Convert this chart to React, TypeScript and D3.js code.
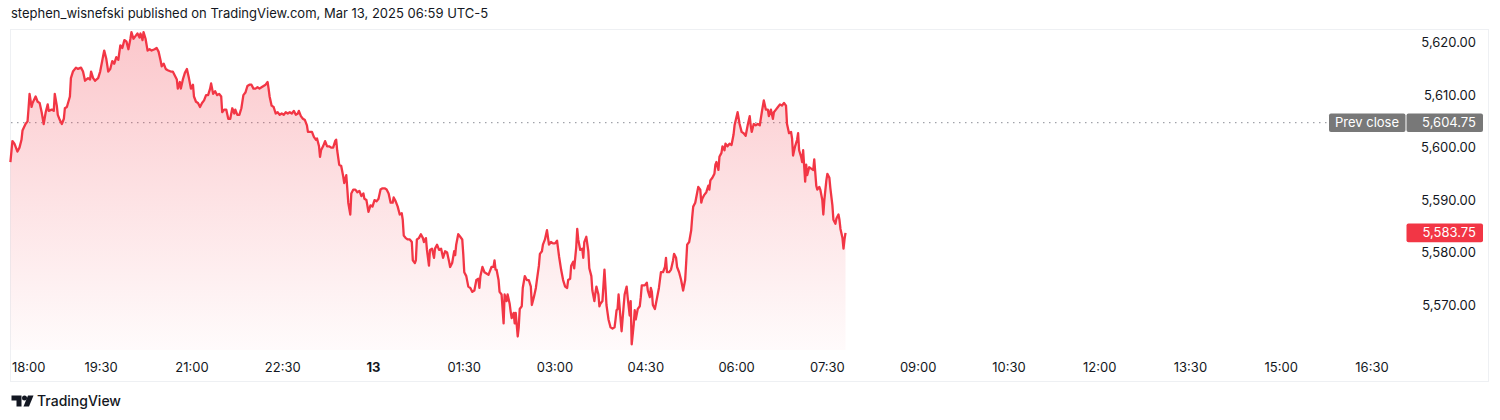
import * as d3 from 'd3';

const PRICE_TICKS = [5570, 5580, 5590, 5600, 5610, 5620];
const TIME_TICKS = ['18:00', '19:30', '21:00', '22:30', '13', '01:30', '03:00', '04:30', '06:00', '07:30', '09:00', '10:30', '12:00', '13:30', '15:00', '16:30'];
const PREV_CLOSE = 5604.75;
const LAST_PRICE = 5583.75;
const HEADER = 'stephen_wisnefski published on TradingView.com, Mar 13, 2025 06:59 UTC-5';

// [minutes after 18:00 on Mar 12, price]
const SERIES: [number, number][] = [
  [0, 5597.25], [2, 5601.25], [4, 5600.75], [7, 5599.25], [9, 5600], [11, 5601.5], [12, 5603.25], [15, 5604.5], [17, 5605], [18, 5607.5],
  [19, 5610.25], [21, 5607.75], [22, 5608.5], [25, 5609.75], [27, 5608.75], [29, 5608.5], [31, 5606.75], [33, 5604.5], [35, 5606.75], [37, 5608.25],
  [38, 5607], [41, 5607.25], [43, 5607], [44, 5610.25], [46, 5608], [47, 5606.25], [49, 5605.25], [51, 5604.5], [53, 5605.5], [54, 5607.5],
  [56, 5607.75], [59, 5609.75], [60, 5613.25], [62, 5614.5], [65, 5615.25], [67, 5615], [70, 5615.25], [72, 5614.5], [74, 5612.75], [77, 5613.25],
  [79, 5613], [80, 5614.5], [82, 5613.25], [84, 5612.75], [87, 5613.25], [89, 5614.5], [91, 5616.5], [93, 5618.5], [95, 5617], [97, 5614.5],
  [99, 5615], [101, 5616.5], [103, 5616], [105, 5617.25], [107, 5616.75], [109, 5619.5], [111, 5619], [113, 5620.5], [115, 5620.25], [117, 5618.75],
  [119, 5620.75], [120, 5622], [122, 5620.75], [124, 5621.25], [126, 5621.75], [128, 5621], [129, 5621.75], [131, 5620.5], [132, 5622], [134, 5620.75],
  [136, 5618.5], [138, 5618.75], [140, 5618.5], [143, 5618.75], [145, 5619], [147, 5618.25], [149, 5616.5], [150, 5615.5], [152, 5616], [154, 5615],
  [156, 5614.75], [159, 5614.5], [161, 5614.5], [163, 5613.75], [165, 5613], [166, 5611.25], [168, 5612.5], [169, 5611.25], [171, 5613], [173, 5614.25],
  [175, 5615], [177, 5613.25], [179, 5611.25], [181, 5612], [182, 5609.75], [184, 5608.75], [186, 5608.5], [188, 5607.75], [190, 5608.5], [192, 5609],
  [194, 5610], [196, 5610], [198, 5611.25], [199, 5612.25], [201, 5610.25], [203, 5610.75], [205, 5610], [207, 5610.25], [209, 5609.75], [210, 5606.75],
  [212, 5607.25], [214, 5607.25], [216, 5605.5], [218, 5605.5], [220, 5607.5], [222, 5606.5], [223, 5607.25], [225, 5606.25], [227, 5606.25], [229, 5607.5],
  [231, 5610], [233, 5610.5], [235, 5611.75], [237, 5612], [239, 5612], [241, 5611.25], [243, 5611.25], [245, 5611.5], [247, 5611.25], [249, 5611.5],
  [251, 5611.75], [253, 5612], [255, 5612.5], [256, 5611.25], [257, 5609.75], [259, 5608], [261, 5607.75], [263, 5606.5], [265, 5606.75], [267, 5606.25],
  [269, 5606.5], [271, 5606.25], [273, 5606.75], [275, 5606.5], [277, 5606.75], [279, 5606.5], [281, 5607], [283, 5606.25], [285, 5606.5], [286, 5607],
  [288, 5606], [290, 5605.5], [292, 5605.25], [294, 5604.25], [295, 5603], [297, 5603], [299, 5603], [301, 5602], [303, 5601.5], [304, 5601.75],
  [306, 5600.25], [307, 5598.25], [308, 5599.5], [310, 5600.25], [312, 5601.25], [314, 5600.25], [316, 5600.25], [318, 5600], [320, 5600], [322, 5601.25],
  [323, 5601.5], [324, 5599.5], [326, 5596.75], [328, 5596.5], [330, 5594.5], [331, 5593.25], [333, 5594.75], [334, 5592.25], [335, 5589.5], [337, 5587.25],
  [338, 5591.25], [340, 5592], [342, 5592], [344, 5591.5], [346, 5591.75], [348, 5590.75], [350, 5591.25], [351, 5590.25], [353, 5590], [355, 5587.75],
  [357, 5589], [359, 5588.75], [361, 5590], [363, 5589.75], [365, 5590.25], [367, 5592], [369, 5592.25], [371, 5592.25], [373, 5592], [375, 5591.25],
  [377, 5589.5], [379, 5589.5], [380, 5590.5], [382, 5589.75], [384, 5588.75], [386, 5587.25], [388, 5587.5], [389, 5586.25], [390, 5583.25], [392, 5582.75],
  [394, 5582.5], [396, 5582.5], [398, 5582], [399, 5578.5], [401, 5578], [402, 5578.5], [403, 5582.5], [405, 5582.75], [407, 5583.5], [409, 5582.75],
  [410, 5582], [412, 5582.75], [413, 5580.5], [415, 5577.5], [416, 5580.5], [418, 5580.75], [420, 5579], [421, 5580.75], [423, 5581.5], [425, 5580.5],
  [427, 5580.75], [429, 5579], [431, 5580.25], [433, 5580], [435, 5578.25], [436, 5577.25], [438, 5578], [440, 5580.25], [441, 5579.5], [442, 5581.5],
  [444, 5583.5], [446, 5583], [448, 5582.5], [449, 5579.75], [450, 5576.25], [452, 5575.5], [454, 5573.5], [456, 5573.25], [458, 5572.5], [460, 5572.75],
  [462, 5574.75], [464, 5575], [465, 5573.25], [466, 5575.5], [468, 5577.25], [470, 5576.25], [472, 5576], [474, 5575.75], [476, 5576.75], [477, 5577.25],
  [479, 5577.25], [480, 5578.5], [481, 5576.75], [482, 5576.75], [484, 5574.75], [485, 5572.5], [487, 5572], [489, 5566.5], [490, 5572], [492, 5570.75],
  [493, 5572], [495, 5570.25], [496, 5568.75], [497, 5567.5], [499, 5568.5], [500, 5566.5], [501, 5568.5], [503, 5564], [504, 5565.75], [505, 5569.25],
  [507, 5569.75], [508, 5573.25], [510, 5575.5], [512, 5574.75], [514, 5574.75], [516, 5573.5], [517, 5570], [519, 5571.5], [521, 5573.25], [522, 5574.75],
  [524, 5577.5], [525, 5579.75], [527, 5580.25], [528, 5581.5], [530, 5582.5], [532, 5584.25], [534, 5581.5], [536, 5582], [538, 5581.75], [540, 5581.75],
  [542, 5582.25], [543, 5580.75], [544, 5579.25], [546, 5576.75], [548, 5574.75], [550, 5573.5], [552, 5573.25], [553, 5574.75], [555, 5575], [556, 5577.5],
  [558, 5578.25], [559, 5577], [561, 5581], [562, 5584.5], [563, 5582.5], [565, 5580.5], [567, 5580.75], [568, 5579], [569, 5582], [571, 5583],
  [573, 5580.25], [574, 5577], [576, 5575.5], [577, 5572.75], [579, 5570.75], [580, 5572.25], [581, 5573.5], [583, 5572], [584, 5569.75], [585, 5570.25],
  [587, 5570.75], [589, 5576.75], [590, 5573.5], [591, 5570], [593, 5567.25], [595, 5565.75], [597, 5565.5], [599, 5565.75], [600, 5567.25], [601, 5569],
  [602, 5569.25], [603, 5572], [605, 5567.25], [606, 5565], [608, 5569.75], [609, 5572], [611, 5573.5], [612, 5571.5], [614, 5568], [615, 5570.75],
  [616, 5562.5], [618, 5566.25], [619, 5569], [620, 5567.25], [622, 5569.25], [624, 5569.75], [625, 5571.5], [626, 5573.75], [629, 5573.75], [631, 5574.25],
  [632, 5572.75], [634, 5571.5], [635, 5573.25], [636, 5572.5], [637, 5570], [639, 5569.25], [641, 5571.25], [643, 5573.25], [645, 5576.25], [647, 5576.25],
  [649, 5577.25], [650, 5579], [651, 5576.25], [653, 5576.25], [655, 5576.75], [657, 5578.5], [658, 5579.75], [660, 5579], [661, 5577.25], [663, 5576.25],
  [665, 5574.75], [667, 5572.75], [669, 5574.75], [670, 5578], [671, 5581.5], [673, 5582], [675, 5584.25], [676, 5586.75], [677, 5588.75], [679, 5589.5],
  [681, 5591.5], [682, 5592.5], [684, 5592], [685, 5589.5], [686, 5590.25], [688, 5591], [690, 5591.5], [692, 5592.75], [693, 5592], [694, 5593.75],
  [696, 5594.25], [698, 5595], [699, 5596.75], [700, 5597.25], [702, 5595.75], [703, 5598.25], [705, 5599], [706, 5600.25], [708, 5599.5], [709, 5600.75],
  [711, 5600.25], [713, 5600.75], [715, 5600.5], [717, 5602.5], [718, 5604.25], [721, 5606.75], [723, 5604.5], [725, 5603], [727, 5602.75], [729, 5602.25],
  [731, 5604.25], [733, 5606], [734, 5604.25], [735, 5603], [737, 5604.5], [739, 5604.25], [741, 5604.5], [743, 5604.25], [745, 5606.75], [747, 5609],
  [749, 5607.25], [751, 5607.25], [752, 5606], [754, 5607.25], [756, 5605.5], [757, 5606.75], [759, 5607.25], [761, 5607.75], [763, 5608.25], [765, 5608],
  [767, 5608.5], [769, 5608], [770, 5604.5], [772, 5602.75], [774, 5603], [775, 5601.75], [776, 5598.5], [778, 5600.25], [780, 5601.5], [781, 5602.75],
  [782, 5599.5], [784, 5598.25], [785, 5597.25], [786, 5599.5], [788, 5593.5], [789, 5596.75], [790, 5594.75], [792, 5596.25], [794, 5596], [796, 5595.75],
  [797, 5597.75], [799, 5592.75], [800, 5592], [802, 5592.5], [803, 5592], [805, 5590], [806, 5587.25], [807, 5590], [809, 5593.75], [810, 5595],
  [812, 5594.25], [813, 5592.25], [815, 5589], [816, 5586.25], [818, 5585.5], [819, 5586.5], [821, 5587.25], [822, 5586.25], [823, 5584.5], [825, 5582.75],
  [826, 5580.75], [827, 5582.5], [828, 5583.75],
];

const W = 1500;
const H = 420;
const FONT = 'Inter, "Noto Sans", Arial, sans-serif';
const RED = '#f23645';
const TEXT = '#131722';
const PLOT_BOTTOM = 350;
const START = new Date(2025, 2, 12, 18, 0);
const END = new Date(2025, 2, 13, 17, 5);
const MIN = 60000;

const toDate = (m: number) => new Date(START.getTime() + m * MIN);

export default function App() {
  const x = d3.scaleTime().domain([START, END]).range([10.4, 1407.3]);
  const y = d3.scaleLinear().domain([5570, 5620]).range([305, 42.7]);
  const fmt = d3.format(',.2f');

  const line = d3.line<[number, number]>()
    .x(d => x(toDate(d[0])))
    .y(d => y(d[1]));
  const area = d3.area<[number, number]>()
    .x(d => x(toDate(d[0])))
    .y0(PLOT_BOTTOM)
    .y1(d => y(d[1]));

  const yPrev = y(PREV_CLOSE);
  const yLast = y(LAST_PRICE);

  return (
    <div style={{ position: 'fixed', left: 0, top: 0, background: '#fff' }}>
      <svg width={W} height={H} style={{ display: 'block' }} fontFamily={FONT}>
        <rect width={W} height={H} fill="#fff" />
        <defs>
          <linearGradient id="fillGrad" gradientUnits="userSpaceOnUse" x1="0" y1="30" x2="0" y2={PLOT_BOTTOM}>
            <stop offset="0" stopColor={RED} stopOpacity={0.28} />
            <stop offset="1" stopColor={RED} stopOpacity={0.02} />
          </linearGradient>
        </defs>

        <text x={11} y={18} fontSize={13} fill={TEXT}>{HEADER}</text>

        {/* chart frame */}
        <rect x={10.5} y={29.5} width={1478} height={352} fill="none" stroke="#eef0f3" />

        {/* prev close line */}
        <line x1={11} x2={1329} y1={yPrev} y2={yPrev} stroke="#8a8d96" strokeWidth={1} strokeDasharray="1.5 4.5" />

        <path d={area(SERIES) ?? ''} fill="url(#fillGrad)" />
        <path d={line(SERIES) ?? ''} fill="none" stroke={RED} strokeWidth={2.3} strokeLinejoin="round" />

        {/* price axis */}
        {PRICE_TICKS.map(v => (
          <text key={v} x={1476} y={y(v)} dy="0.35em" textAnchor="end" fontSize={13} fill={TEXT}>{fmt(v)}</text>
        ))}

        {/* prev close badge */}
        <rect x={1329} y={yPrev - 9.3} width={76.5} height={18.6} rx={2} fill="#787878" />
        <rect x={1406.5} y={yPrev - 9.3} width={76.5} height={18.6} rx={2} fill="#787878" />
        <text x={1367} y={yPrev} dy="0.35em" textAnchor="middle" fontSize={13} fill="#fff">Prev close</text>
        <text x={1476} y={yPrev} dy="0.35em" textAnchor="end" fontSize={13} fill="#fff">{fmt(PREV_CLOSE)}</text>

        {/* last price badge */}
        <rect x={1406.5} y={yLast - 9.3} width={76.5} height={18.6} rx={2} fill={RED} />
        <text x={1476} y={yLast} dy="0.35em" textAnchor="end" fontSize={13} fill="#fff">{fmt(LAST_PRICE)}</text>

        {/* time axis */}
        {TIME_TICKS.map((label, i) => {
          const tx = x(toDate(i * 90));
          const first = i === 0;
          return (
            <text
              key={label + i}
              x={first ? 12 : tx}
              y={367}
              dy="0.35em"
              textAnchor={first ? 'start' : 'middle'}
              fontSize={13}
              fontWeight={label === '13' ? 700 : 400}
              fill={TEXT}
            >
              {label}
            </text>
          );
        })}

        {/* TradingView logo */}
        <g fill={TEXT}>
          <path d="M11.5,395.5 H21.5 V406.5 H16.5 V400.5 H11.5 Z" />
          <circle cx={24.5} cy={398} r={2.5} />
          <path d="M28,395.5 H33.5 L29,406.5 H23.5 Z" />
        </g>
        <text x={37} y={401} dy="0.35em" fontSize={14} fontWeight={500} fill={TEXT}>TradingView</text>
      </svg>
    </div>
  );
}
